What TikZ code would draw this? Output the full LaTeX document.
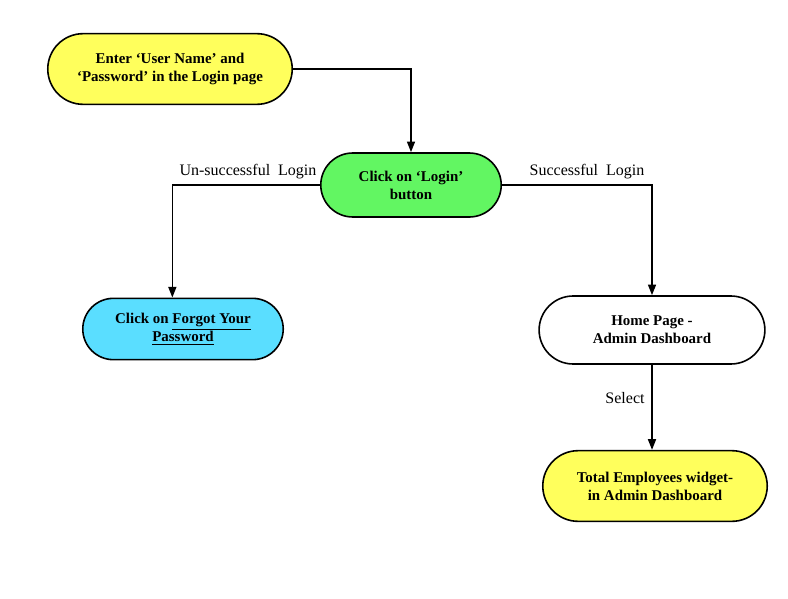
\documentclass[tikz,border=0pt]{standalone}
\usepackage{fontspec}
\setmainfont{Liberation Serif}
\usetikzlibrary{shapes.misc,arrows.meta}

\definecolor{boxyellow}{RGB}{255,255,92}
\definecolor{boxgreen}{RGB}{98,246,98}
\definecolor{boxcyan}{RGB}{90,222,255}

\begin{document}
\begin{tikzpicture}[x=0.75pt,y=-0.75pt]

    \tikzset{
      StepStyle/.style = { rounded rectangle, draw, line width=1.2pt,
                  align=center, font=\fontsize{11.2}{13.5}\selectfont\bfseries },
      EdgeStyle/.style = { line width=1.2pt, -{Triangle[length=8pt,width=6pt]} },
      LabelStyle/.style = { font=\fontsize{12}{14}\selectfont } }

      \useasboundingbox (0,0) rectangle (788,599);

      \node[StepStyle,fill=boxyellow,minimum width=190pt,minimum height=53pt] (s1) at (170,69)
        {Enter ‘User Name’ and\\‘Password’ in the Login page};
      \node[StepStyle,fill=boxgreen,minimum width=142pt,minimum height=48pt] (s2) at (411,185)
        {Click on ‘Login’\\button};
      \node[StepStyle,fill=boxcyan,minimum width=157pt,minimum height=46pt] (t1) at (183,329)
        {Click on \underline{Forgot Your}\\\underline{Password}};
      \node[StepStyle,fill=white,minimum width=176pt,minimum height=51pt] (t2) at (652,330)
        {Home Page -\\Admin Dashboard};
      \node[StepStyle,fill=boxyellow,minimum width=175pt,minimum height=53pt] (t3) at (655,486)
        {Total Employees widget-\\in Admin Dashboard};

      \draw[EdgeStyle] (s1.east) -| (s2.north);
      \draw[EdgeStyle] (s2.west) -| ([xshift=-8pt]t1.north);
      \draw[EdgeStyle] (s2.east) -| (t2.north);
      \draw[EdgeStyle] (t2.south) -- (t2.south |- t3.north);

    \node[LabelStyle] (u) at (248,172) {Un-successful\ \ Login};
    \node[LabelStyle] (v) at (587,172) {Successful\ \ Login};
    \node[LabelStyle] (w) at (625,398) {Select};
    \end{tikzpicture}
\end{document}
